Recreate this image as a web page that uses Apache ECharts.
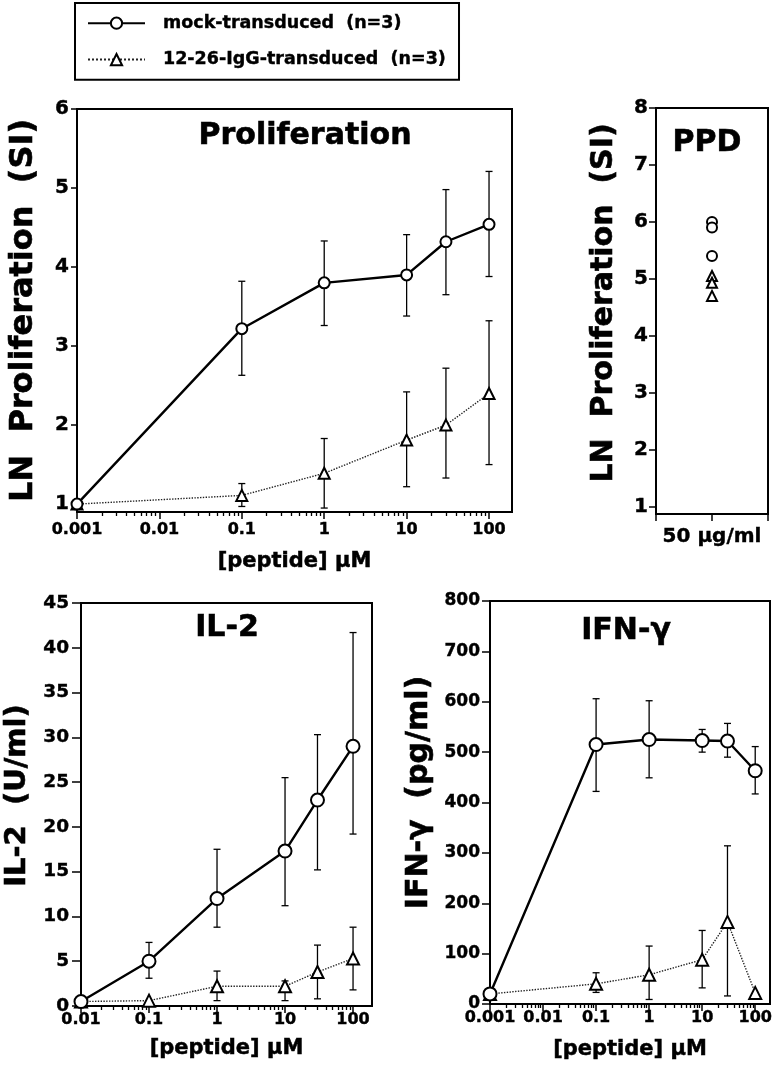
<!DOCTYPE html>
<html><head><meta charset="utf-8">
<script src="https://cdn.jsdelivr.net/npm/echarts@6/dist/echarts.min.js"></script>
<style>html,body{margin:0;padding:0;background:#fff}#c{width:774px;height:1068px}</style>
</head><body><div id="c"></div><script>
// ---------- data ----------
const seriesNames = ['mock-transduced  (n=3)', '12-26-IgG-transduced  (n=3)'];

const prolifDoses = [0.001, 0.1, 1, 10, 30, 100];
const prolifMock = [1.0, 3.22, 3.80, 3.90, 4.32, 4.54];
const prolifMockLow = [null, 2.63, 3.26, 3.38, 3.65, 3.88];
const prolifMockHigh = [null, 3.82, 4.33, 4.41, 4.98, 5.21];
const prolifIgG = [1.0, 1.11, 1.39, 1.81, 2.00, 2.40];
const prolifIgGLow = [null, 0.97, 0.95, 1.22, 1.33, 1.50];
const prolifIgGHigh = [null, 1.26, 1.83, 2.42, 2.72, 3.32];

const ppdCategories = ['50 \u00b5g/ml'];
const ppdMock = [6.0, 5.9, 5.4];
const ppdIgG = [5.05, 4.93, 4.7];

const il2Doses = [0.01, 0.1, 1, 10, 30, 100];
const il2Mock = [0.5, 5.0, 12.0, 17.3, 23.0, 29.0];
const il2MockLow = [null, 3.1, 8.8, 11.2, 15.2, 19.2];
const il2MockHigh = [null, 7.1, 17.5, 25.5, 30.3, 41.7];
const il2IgG = [0.5, 0.6, 2.2, 2.2, 3.8, 5.3];
const il2IgGLow = [null, null, 0.6, 0.6, 0.8, 1.8];
const il2IgGHigh = [null, null, 3.9, 2.8, 6.8, 8.8];

const ifnDoses = [0.001, 0.1, 1, 10, 30, 100];
const ifnMock = [20, 515, 525, 523, 522, 463];
const ifnMockLow = [null, 422, 449, 500, 490, 417];
const ifnMockHigh = [null, 606, 602, 545, 557, 511];
const ifnIgG = [20, 40, 58, 88, 163, 22];
const ifnIgGLow = [null, 23, 9, 32, 16, null];
const ifnIgGHigh = [null, 62, 115, 146, 314, null];

const xTicks3 = [0.001, 0.01, 0.1, 1, 10, 100];
const xTickLabels3 = ['0.001', '0.01', '0.1', '1', '10', '100'];
const xTicks2 = [0.01, 0.1, 1, 10, 100];
const xTickLabels2 = ['0.01', '0.1', '1', '10', '100'];
const prolifYTicks = [1, 2, 3, 4, 5, 6];
const ppdYTicks = [1, 2, 3, 4, 5, 6, 7, 8];

const titles = ['Proliferation', 'PPD', 'IL-2', 'IFN-\u03b3'];
const yNames = ['LN  Proliferation  (SI)', 'LN  Proliferation  (SI)', 'IL-2  (U/ml)', 'IFN-\u03b3  (pg/ml)'];
const xName = '[peptide] \u00b5M';

// ---------- helpers ----------
const FONT = 'DejaVu Sans';
const X_MAX = 190;
const heavy = w => ({ color: '#000', fontFamily: FONT, fontWeight: 'bold', textBorderColor: '#000', textBorderWidth: w });

function minorTicks(minDecade, maxVal) {
  const out = [];
  for (let d = minDecade; d <= maxVal; d *= 10) {
    for (let k = 2; k <= 9; k++) { const v = +(d * k).toPrecision(6); if (v <= maxVal) out.push(v); }
  }
  return out;
}
function labelFor(ticks, labels) {
  return v => {
    const i = ticks.findIndex(t => Math.abs(Math.log10(t) - Math.log10(v)) < 1e-6);
    return i >= 0 ? labels[i] : '';
  };
}
function logAxes(gridIndex, min, ticks, labels, fs, margin, gap) {
  return [{
    type: 'log', logBase: 10, gridIndex, min, max: X_MAX, position: 'bottom',
    axisLine: { show: true, onZero: false, lineStyle: { color: '#000', width: 2 } },
    axisTick: { show: true, length: 7, customValues: ticks, lineStyle: { color: '#000', width: 1.5 } },
    axisLabel: Object.assign({ customValues: ticks, formatter: labelFor(ticks, labels), fontSize: fs, margin }, heavy(0.4)),
    splitLine: { show: false }, minorTick: { show: false },
    name: xName, nameLocation: 'middle', nameGap: gap, nameMoveOverlap: false,
    nameTextStyle: Object.assign({ fontSize: 21 }, heavy(0.5))
  }, {
    type: 'log', logBase: 10, gridIndex, min, max: X_MAX, position: 'bottom',
    axisLine: { show: false, onZero: false },
    axisTick: { show: true, length: 4, customValues: minorTicks(min, X_MAX), lineStyle: { color: '#000', width: 1.3 } },
    axisLabel: { show: false }, splitLine: { show: false }
  }];
}
function yAxis(gridIndex, min, max, extra, fs, tickLen, margin, name, nameFs, nameGap, shiftUp) {
  return Object.assign({
    type: 'value', gridIndex, min, max,
    axisLine: { show: true, onZero: false, lineStyle: { color: '#000', width: 2 } },
    axisTick: { show: true, length: tickLen, lineStyle: { color: '#000', width: 1.5 } },
    axisLabel: Object.assign({ fontSize: fs, margin }, heavy(0.4)),
    splitLine: { show: false },
    name, nameLocation: 'middle', nameRotate: 90, nameGap, nameMoveOverlap: false,
    nameTextStyle: Object.assign({ fontSize: nameFs, padding: [0, 0, 0, shiftUp * 2] }, heavy(0.6))
  }, extra(tickLen, fs, margin));
}
function errData(x, lo, hi) {
  return x.map((d, i) => (lo[i] == null ? null : [d, lo[i], hi[i]])).filter(Boolean);
}
function errSeries(xi, yi, data) {
  return {
    type: 'custom', xAxisIndex: xi, yAxisIndex: yi, z: 1, clip: false,
    encode: { x: 0, y: [1, 2] }, data,
    renderItem(params, api) {
      const x = api.value(0);
      const p1 = api.coord([x, api.value(1)]);
      const p2 = api.coord([x, api.value(2)]);
      const w = 3.5, st = { stroke: '#000', lineWidth: 1.3 };
      return { type: 'group', children: [
        { type: 'line', shape: { x1: p1[0], y1: p1[1], x2: p2[0], y2: p2[1] }, style: st },
        { type: 'line', shape: { x1: p1[0] - w, y1: p1[1], x2: p1[0] + w, y2: p1[1] }, style: st },
        { type: 'line', shape: { x1: p2[0] - w, y1: p2[1], x2: p2[0] + w, y2: p2[1] }, style: st }
      ] };
    }
  };
}
function lineSeries(idx, xi, yi, x, y, size) {
  const mock = idx === 0;
  return {
    type: 'line', name: seriesNames[idx], xAxisIndex: xi, yAxisIndex: yi,
    data: x.map((d, i) => [d, y[i]]),
    symbol: mock ? 'circle' : 'triangle', symbolSize: size, showSymbol: true,
    z: mock ? 4 : 3, animation: false,
    lineStyle: mock ? { color: '#000', width: 2.4, type: 'solid' } : { color: '#222', width: 1.4, type: 'dotted' },
    itemStyle: { color: '#fff', borderColor: '#000', borderWidth: 2, opacity: 1 }
  };
}
function scatterSeries(idx, xi, yi, vals, size) {
  return {
    type: 'scatter', name: seriesNames[idx], xAxisIndex: xi, yAxisIndex: yi,
    data: vals.map(v => [ppdCategories[0], v]),
    symbol: idx === 0 ? 'circle' : 'triangle', symbolSize: size, z: 3,
    itemStyle: { color: '#fff', borderColor: '#000', borderWidth: 2, opacity: 1 }
  };
}

// ---------- option ----------
const gridBase = { show: true, borderColor: '#000', borderWidth: 2, backgroundColor: 'transparent', containLabel: false, outerBoundsMode: 'none' };
const titleStyle = Object.assign({ fontSize: 30 }, heavy(0.6));

const xAxes = [
  ...logAxes(0, 0.001, xTicks3, xTickLabels3, 16, 10, 39),
  ...logAxes(2, 0.01, xTicks2, xTickLabels2, 16, 6, 32),
  ...logAxes(3, 0.001, xTicks3, xTickLabels3, 16, 6, 35),
  {
    type: 'category', gridIndex: 1, data: ppdCategories, boundaryGap: true, position: 'bottom',
    axisLine: { show: true, onZero: false, lineStyle: { color: '#000', width: 2 } },
    axisTick: { show: true, interval: 0, length: 7, lineStyle: { color: '#000', width: 1.5 } },
    axisLabel: Object.assign({ fontSize: 20, margin: 13 }, heavy(0.4))
  },
  {
    type: 'category', gridIndex: 1, data: ppdCategories, boundaryGap: true, position: 'bottom',
    axisLine: { show: false, onZero: false },
    axisTick: { show: true, alignWithLabel: true, length: 7, lineStyle: { color: '#000', width: 1.5 } },
    axisLabel: { show: false }
  }
];
// x axis indices: prolif 0 (major),1 (minor); IL-2 2,3; IFN 4,5; PPD 6,7

const customY = ticks => (len, fs, margin) => ({
  axisTick: { show: true, length: len, customValues: ticks, lineStyle: { color: '#000', width: 1.5 } },
  axisLabel: Object.assign({ customValues: ticks, fontSize: fs, margin }, heavy(0.4))
});
const intervalY = iv => () => ({ interval: iv });

const yAxes = [
  yAxis(0, 0.9, 6, customY(prolifYTicks), 20, 6, 8, yNames[0], 32, 37, 0),
  yAxis(1, 0.87, 8, customY(ppdYTicks), 20, 7, 8, yNames[1], 30, 37, 8),
  yAxis(2, 0, 45, intervalY(5), 18.5, 9, 12, yNames[2], 29, 49, 9),
  yAxis(3, 0, 800, intervalY(100), 17, 8, 10, yNames[3], 30, 56, 10)
];

const option = {
  animation: false,
  backgroundColor: '#fff',
  title: [
    { text: titles[0], left: 305, top: 121, textAlign: 'center', textVerticalAlign: 'top', padding: 0, textStyle: titleStyle },
    { text: titles[1], left: 707, top: 128, textAlign: 'center', textVerticalAlign: 'top', padding: 0, textStyle: titleStyle },
    { text: titles[2], left: 227, top: 613, textAlign: 'center', textVerticalAlign: 'top', padding: 0, textStyle: titleStyle },
    { text: titles[3], left: 626, top: 616, textAlign: 'center', textVerticalAlign: 'top', padding: 0, textStyle: titleStyle }
  ],
  legend: {
    data: seriesNames, orient: 'vertical', left: 75, top: 3,
    borderColor: '#000', borderWidth: 2, padding: [11, 13, 11, 12],
    itemWidth: 57, itemHeight: 14, itemGap: 18,
    selectedMode: false,
    textStyle: Object.assign({ fontSize: 17.5, padding: [0, 0, 0, 13] }, heavy(0.4))
  },
  grid: [
    Object.assign({ left: 77, top: 109, width: 435, height: 403 }, gridBase),
    Object.assign({ left: 656, top: 108, width: 112, height: 406 }, gridBase),
    Object.assign({ left: 81, top: 603, width: 291, height: 403 }, gridBase),
    Object.assign({ left: 490, top: 601, width: 280, height: 403 }, gridBase)
  ],
  xAxis: xAxes,
  yAxis: yAxes,
  series: [
    errSeries(0, 0, errData(prolifDoses, prolifMockLow, prolifMockHigh)),
    errSeries(0, 0, errData(prolifDoses, prolifIgGLow, prolifIgGHigh)),
    lineSeries(1, 0, 0, prolifDoses, prolifIgG, 11),
    lineSeries(0, 0, 0, prolifDoses, prolifMock, 11),

    scatterSeries(0, 6, 1, ppdMock, 10),
    scatterSeries(1, 6, 1, ppdIgG, 10),

    errSeries(2, 2, errData(il2Doses, il2MockLow, il2MockHigh)),
    errSeries(2, 2, errData(il2Doses, il2IgGLow, il2IgGHigh)),
    lineSeries(1, 2, 2, il2Doses, il2IgG, 12),
    lineSeries(0, 2, 2, il2Doses, il2Mock, 13),

    errSeries(4, 3, errData(ifnDoses, ifnMockLow, ifnMockHigh)),
    errSeries(4, 3, errData(ifnDoses, ifnIgGLow, ifnIgGHigh)),
    lineSeries(1, 4, 3, ifnDoses, ifnIgG, 12),
    lineSeries(0, 4, 3, ifnDoses, ifnMock, 13)
  ]
};

const chart = echarts.init(document.getElementById('c'), null, { renderer: 'canvas' });
chart.setOption(option);
</script></body></html>
